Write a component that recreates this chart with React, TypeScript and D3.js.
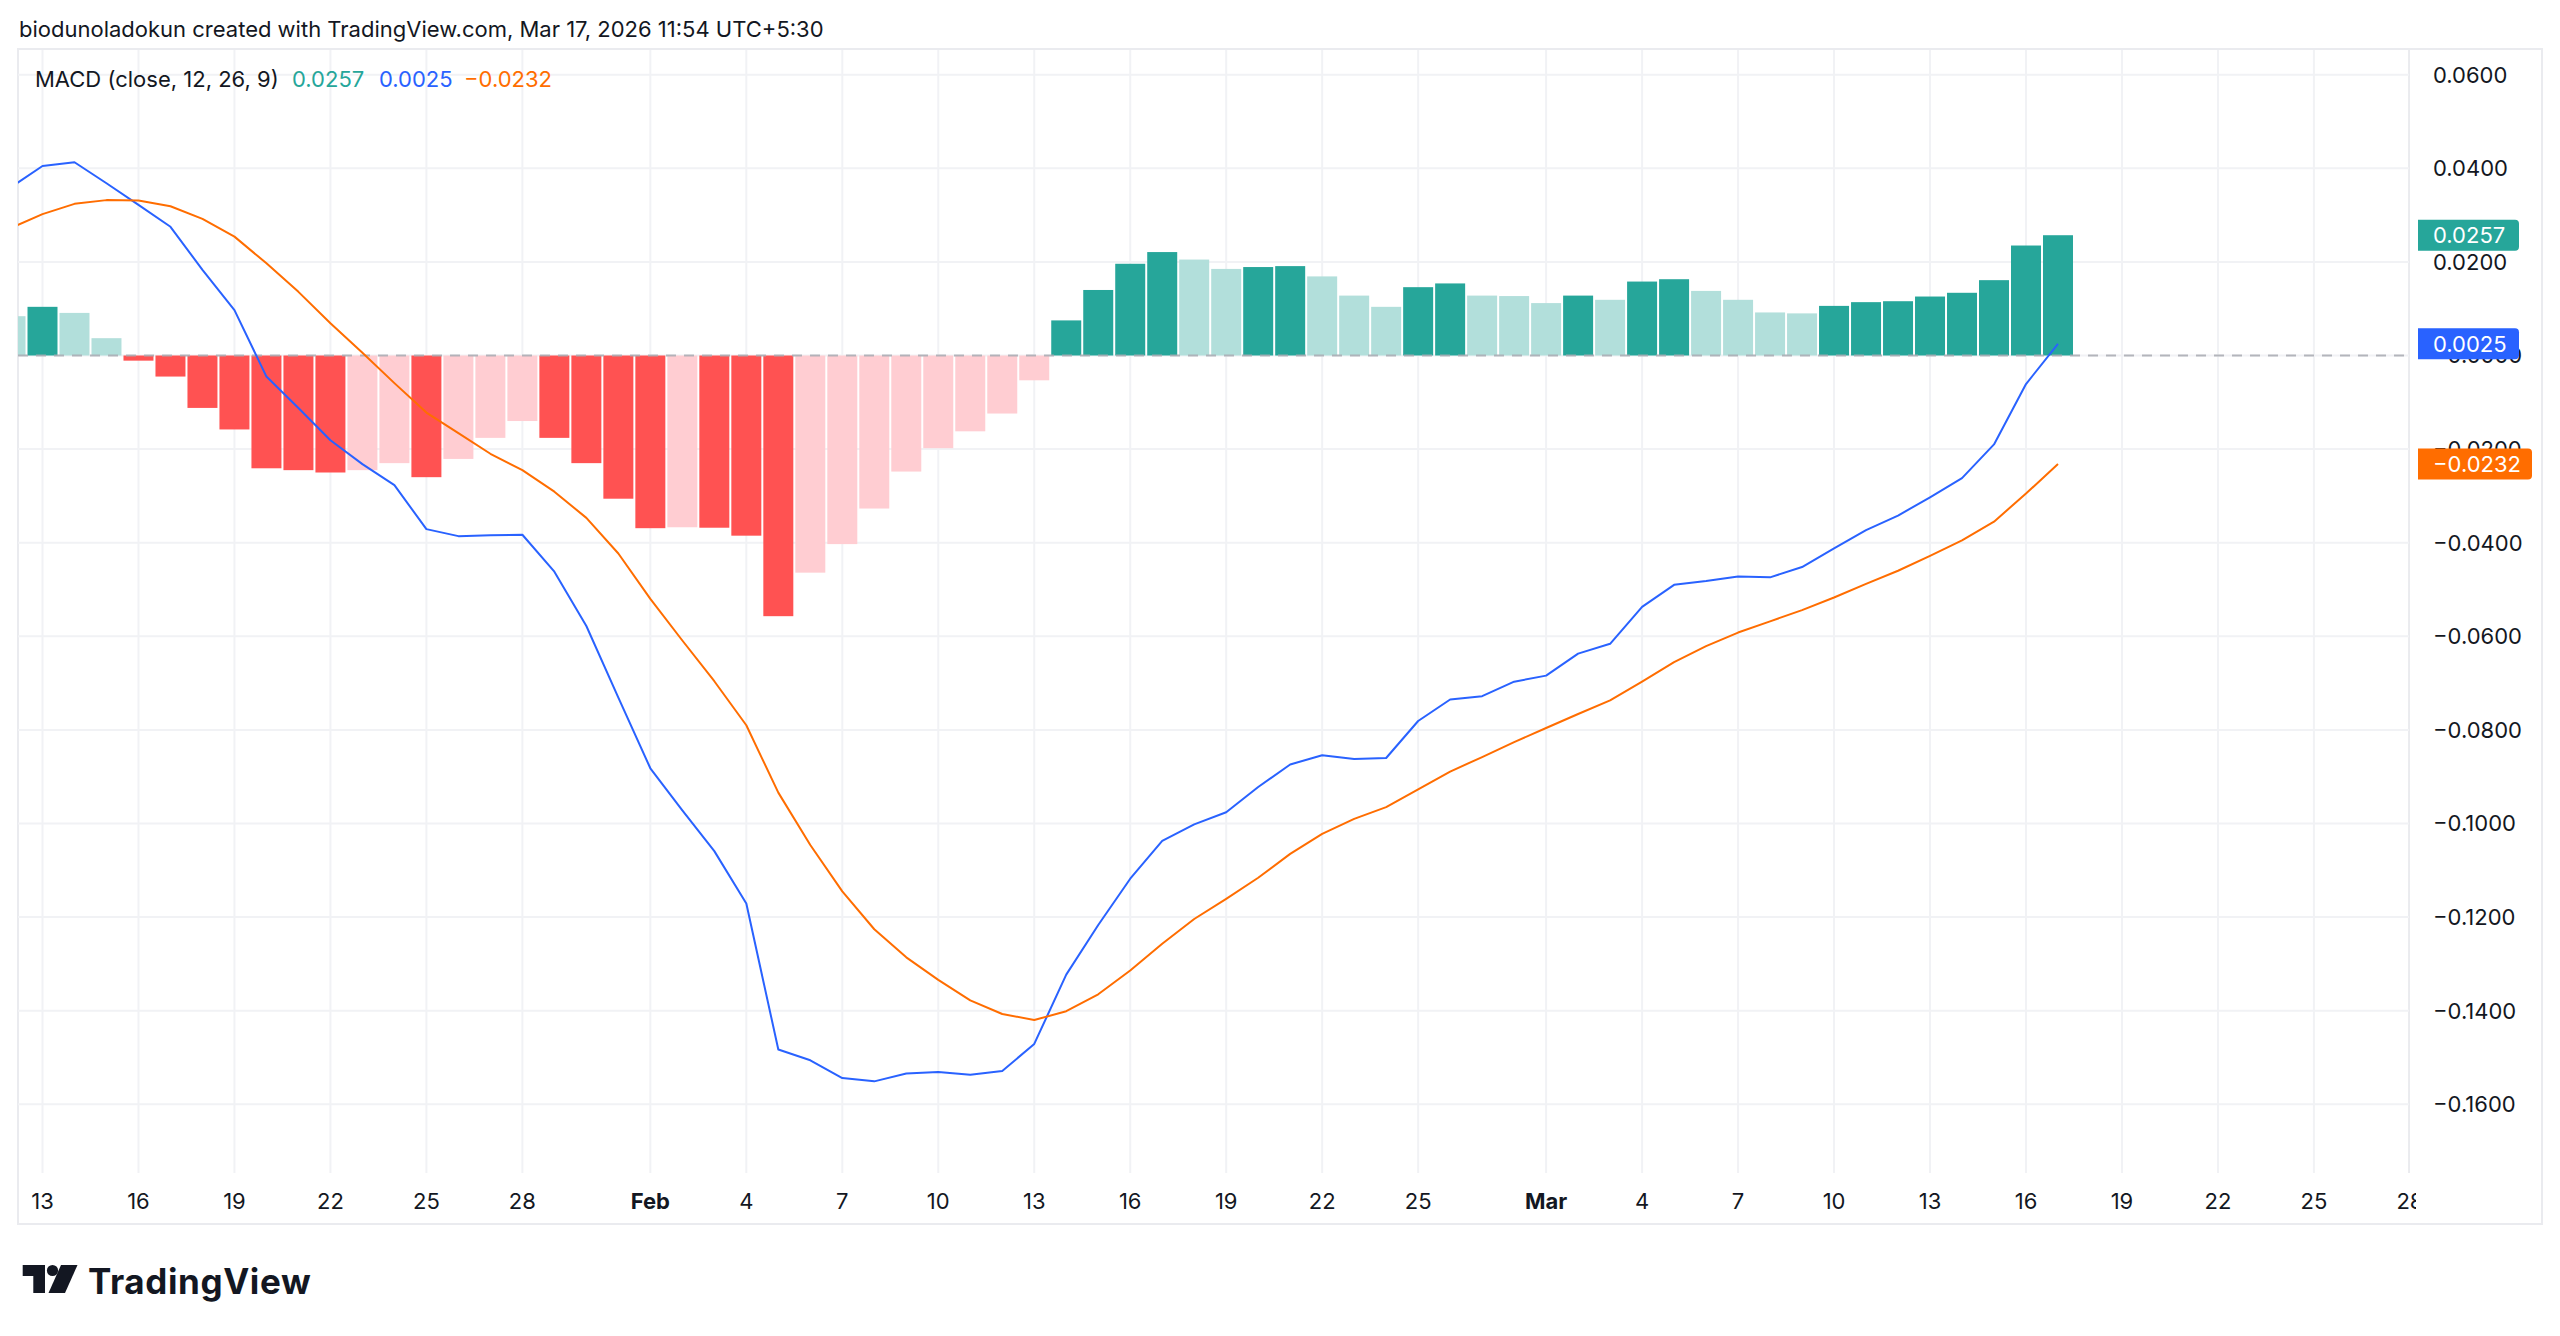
import React from 'react';
import * as d3 from 'd3';

// Daily MACD(12, 26, 9) values, one entry per day starting 2026-01-12
const FIRST_DAY = Date.UTC(2026, 0, 12);

const MACD_LINE = [
  0.0359, 0.0405, 0.0413, 0.0368, 0.0322, 0.0275, 0.0183, 0.0097, -0.0045, -0.0112,
  -0.0181, -0.0232, -0.0277, -0.0371, -0.0386, -0.0384, -0.0383, -0.0462, -0.0578, -0.0731,
  -0.0882, -0.0972, -0.1059, -0.1171, -0.1483, -0.1506, -0.1544, -0.1551, -0.1534, -0.1531,
  -0.1537, -0.1529, -0.1471, -0.1323, -0.1217, -0.1118, -0.1037, -0.1002, -0.0976, -0.0922,
  -0.0874, -0.0854, -0.0862, -0.0860, -0.0781, -0.0735, -0.0728, -0.0697,
  -0.0684, -0.0637, -0.0616, -0.0537, -0.0490, -0.0482, -0.0472, -0.0474, -0.0452, -0.0412,
  -0.0373, -0.0342, -0.0303, -0.0262, -0.0190, -0.0061, 0.0025,
];

const SIGNAL_LINE = [
  0.0272, 0.0302, 0.0324, 0.0332, 0.0331, 0.0319, 0.0292, 0.0254, 0.0197, 0.0136,
  0.0069, 0.0006, -0.0059, -0.0122, -0.0166, -0.0210, -0.0245, -0.0291, -0.0347, -0.0423,
  -0.0520, -0.0609, -0.0696, -0.0790, -0.0934, -0.1046, -0.1145, -0.1226, -0.1286, -0.1334,
  -0.1378, -0.1407, -0.1420, -0.1401, -0.1365, -0.1314, -0.1257, -0.1204, -0.1161, -0.1116,
  -0.1065, -0.1022, -0.0990, -0.0965, -0.0927, -0.0889, -0.0858, -0.0826,
  -0.0796, -0.0766, -0.0737, -0.0697, -0.0655, -0.0621, -0.0592, -0.0568, -0.0544, -0.0517,
  -0.0488, -0.0460, -0.0428, -0.0395, -0.0355, -0.0295, -0.0232,
];

const HISTOGRAM = [
  0.0084, 0.0104, 0.0091, 0.0037, -0.0011, -0.0045, -0.0112, -0.0158, -0.0241, -0.0245,
  -0.0250, -0.0245, -0.0230, -0.0260, -0.0221, -0.0176, -0.0140, -0.0176, -0.0230, -0.0306,
  -0.0369, -0.0367, -0.0368, -0.0385, -0.0557, -0.0464, -0.0403, -0.0327, -0.0248, -0.0198,
  -0.0162, -0.0124, -0.0053, 0.0075, 0.0140, 0.0196, 0.0221, 0.0205, 0.0185, 0.0189,
  0.0191, 0.0169, 0.0128, 0.0104, 0.0146, 0.0154, 0.0128, 0.0127,
  0.0112, 0.0128, 0.0119, 0.0158, 0.0163, 0.0138, 0.0119, 0.0092, 0.0090, 0.0106,
  0.0114, 0.0116, 0.0126, 0.0134, 0.0161, 0.0235, 0.0257,
];

const PRICE_TICKS = [0.06, 0.04, 0.02, 0, -0.02, -0.04, -0.06, -0.08, -0.1, -0.12, -0.14, -0.16];
const PRICE_TICK_LABELS = [
  '0.0600', '0.0400', '0.0200', '\u22120.0000', '\u22120.0200', '\u22120.0400',
  '\u22120.0600', '\u22120.0800', '\u22120.1000', '\u22120.1200', '\u22120.1400', '\u22120.1600',
];

const TIME_TICKS = [
  '2026-01-13', '2026-01-16', '2026-01-19', '2026-01-22', '2026-01-25', '2026-01-28',
  '2026-02-01', '2026-02-04', '2026-02-07', '2026-02-10', '2026-02-13', '2026-02-16',
  '2026-02-19', '2026-02-22', '2026-02-25', '2026-03-01', '2026-03-04', '2026-03-07',
  '2026-03-10', '2026-03-13', '2026-03-16', '2026-03-19', '2026-03-22', '2026-03-25',
  '2026-03-28',
];

const HEADER_TEXT = 'biodunoladokun created with TradingView.com, Mar 17, 2026 11:54 UTC+5:30';
const INDICATOR_TITLE = 'MACD (close, 12, 26, 9)';

const COLORS = {
  text: '#131722',
  grid: '#f1f2f5',
  frame: '#eaebef',
  zero: '#a9abb2',
  macd: '#2962ff',
  signal: '#ff6d00',
  upStrong: '#26a69a',
  upWeak: '#b2dfdb',
  downStrong: '#ff5252',
  downWeak: '#ffcdd2',
};

const FONT = 'Inter, Roboto, "Noto Sans", sans-serif';

const W = 2560;
const H = 1336;
const PLOT = { left: 18, top: 50, right: 2409, bottom: 1173 };
const FRAME = { left: 18, top: 49, right: 2542, bottom: 1224 };
const TIME_LABEL_RIGHT = 2416;

const days = MACD_LINE.map((_, i) => new Date(FIRST_DAY + i * 86400000));

const x = d3
  .scaleUtc()
  .domain([new Date(Date.UTC(2026, 0, 13)), new Date(Date.UTC(2026, 2, 16))])
  .range([42.5, 2026]);

const y = d3.scaleLinear().domain([0, 0.06]).range([355.5, 74.7]);

const fmt = d3.format('.4f');

function barColor(i: number): string {
  const h = HISTOGRAM[i];
  const prev = i > 0 ? HISTOGRAM[i - 1] : h;
  if (h >= 0) return h > prev ? COLORS.upStrong : COLORS.upWeak;
  return h < prev ? COLORS.downStrong : COLORS.downWeak;
}

function labelBox(yc: number, w: number): string {
  const x0 = 2418;
  const h = 31;
  const r = 4;
  const t = yc - h / 2;
  const b = yc + h / 2;
  const x1 = x0 + w;
  return `M${x0},${t} H${x1 - r} Q${x1},${t} ${x1},${t + r} V${b - r} Q${x1},${b} ${x1 - r},${b} H${x0} Z`;
}

export default function App() {
  const barStep = x(days[1]) - x(days[0]);
  const barW = barStep - 2;

  const macdPath = d3
    .line<number>()
    .x((_, i) => x(days[i]))
    .y((d) => y(d))(MACD_LINE) as string;
  const signalPath = d3
    .line<number>()
    .x((_, i) => x(days[i]))
    .y((d) => y(d))(SIGNAL_LINE) as string;

  const last = MACD_LINE.length - 1;
  const lastHist = HISTOGRAM[last];
  const lastMacd = MACD_LINE[last];
  const lastSignal = SIGNAL_LINE[last];

  const parseDay = d3.utcParse('%Y-%m-%d');
  const monthFmt = d3.utcFormat('%b');
  const dayFmt = d3.utcFormat('%-d');

  const boxes = [
    { v: lastHist, color: COLORS.upStrong },
    { v: lastMacd, color: COLORS.macd },
    { v: lastSignal, color: COLORS.signal },
  ];

  return (
    <svg
      width={W}
      height={H}
      viewBox={`0 0 ${W} ${H}`}
      style={{ position: 'absolute', left: 0, top: 0, display: 'block', background: '#ffffff' }}
      fontFamily={FONT}
    >
      <defs>
        <clipPath id="plot-clip">
          <rect x={PLOT.left} y={PLOT.top} width={PLOT.right - PLOT.left} height={PLOT.bottom - PLOT.top} />
        </clipPath>
        <clipPath id="time-clip">
          <rect x={PLOT.left} y={PLOT.bottom} width={TIME_LABEL_RIGHT - PLOT.left} height={FRAME.bottom - PLOT.bottom} />
        </clipPath>
      </defs>

      <rect x={0} y={0} width={W} height={H} fill="#ffffff" />

      {/* header line */}
      <text x={19} y={37} fontSize={22} fill={COLORS.text}>
        {HEADER_TEXT}
      </text>

      {/* chart frame */}
      <rect
        x={FRAME.left}
        y={FRAME.top}
        width={FRAME.right - FRAME.left}
        height={FRAME.bottom - FRAME.top}
        fill="none"
        stroke={COLORS.frame}
        strokeWidth={2}
      />
      <line x1={PLOT.right} x2={PLOT.right} y1={PLOT.top} y2={PLOT.bottom} stroke={COLORS.frame} strokeWidth={2} />

      {/* grid */}
      <g clipPath="url(#plot-clip)">
        {TIME_TICKS.map((t) => {
          const xx = x(parseDay(t) as Date);
          return <line key={t} x1={xx} x2={xx} y1={PLOT.top} y2={PLOT.bottom} stroke={COLORS.grid} strokeWidth={2} />;
        })}
        {PRICE_TICKS.map((v) => (
          <line key={v} x1={PLOT.left} x2={PLOT.right} y1={y(v)} y2={y(v)} stroke={COLORS.grid} strokeWidth={2} />
        ))}
      </g>

      {/* histogram, zero line, MACD and signal */}
      <g clipPath="url(#plot-clip)">
        {HISTOGRAM.map((h, i) => {
          const cx = x(days[i]);
          const y0 = y(0);
          const y1 = y(h);
          return (
            <rect
              key={i}
              x={cx - barW / 2}
              y={Math.min(y0, y1)}
              width={barW}
              height={Math.abs(y1 - y0)}
              fill={barColor(i)}
            />
          );
        })}
        <line
          x1={PLOT.left}
          x2={PLOT.right}
          y1={y(0)}
          y2={y(0)}
          stroke={COLORS.zero}
          strokeWidth={2}
          strokeDasharray="10 8"
          opacity={0.85}
        />
        <path d={macdPath} fill="none" stroke={COLORS.macd} strokeWidth={2} strokeLinejoin="round" />
        <path d={signalPath} fill="none" stroke={COLORS.signal} strokeWidth={2} strokeLinejoin="round" />
      </g>

      {/* legend */}
      <text y={87} fontSize={22}>
        <tspan x={35} fill={COLORS.text}>{INDICATOR_TITLE}</tspan>
        <tspan x={292} fill={COLORS.upStrong}>{fmt(lastHist)}</tspan>
        <tspan x={379} fill={COLORS.macd}>{fmt(lastMacd)}</tspan>
        <tspan x={464} fill={COLORS.signal}>{fmt(lastSignal)}</tspan>
      </text>

      {/* price scale */}
      <g>
        {PRICE_TICKS.map((v, i) => (
          <text key={v} x={2433} y={y(v)} dy="0.36em" fontSize={22} fill={COLORS.text}>
            {PRICE_TICK_LABELS[i]}
          </text>
        ))}
        {boxes.map((b) => {
          const label = fmt(b.v);
          const w = label.startsWith('\u2212') ? 114 : 101;
          return (
            <g key={label}>
              <path d={labelBox(y(b.v), w)} fill={b.color} />
              <text x={2433} y={y(b.v)} dy="0.36em" fontSize={22} fill="#ffffff">
                {label}
              </text>
            </g>
          );
        })}
      </g>

      {/* time scale */}
      <g clipPath="url(#time-clip)">
        {TIME_TICKS.map((t) => {
          const d = parseDay(t) as Date;
          const isMonth = d.getUTCDate() === 1;
          return (
            <text
              key={t}
              x={x(d)}
              y={1201}
              dy="0.36em"
              textAnchor="middle"
              fontSize={22}
              fontWeight={isMonth ? 700 : 400}
              fill={COLORS.text}
            >
              {isMonth ? monthFmt(d) : dayFmt(d)}
            </text>
          );
        })}
      </g>

      {/* brand mark */}
      <g fill="#131722">
        <path d="M22.7,1265 H45 V1293 H33.3 V1276 H22.7 Z" />
        <circle cx={52.5} cy={1270.5} r={5.6} />
        <path d="M61,1265 H77.5 L65,1293 H48.5 Z" />
        <text x={88} y={1294} fontSize={35} fontWeight={700} letterSpacing={0.6}>
          TradingView
        </text>
      </g>
    </svg>
  );
}
